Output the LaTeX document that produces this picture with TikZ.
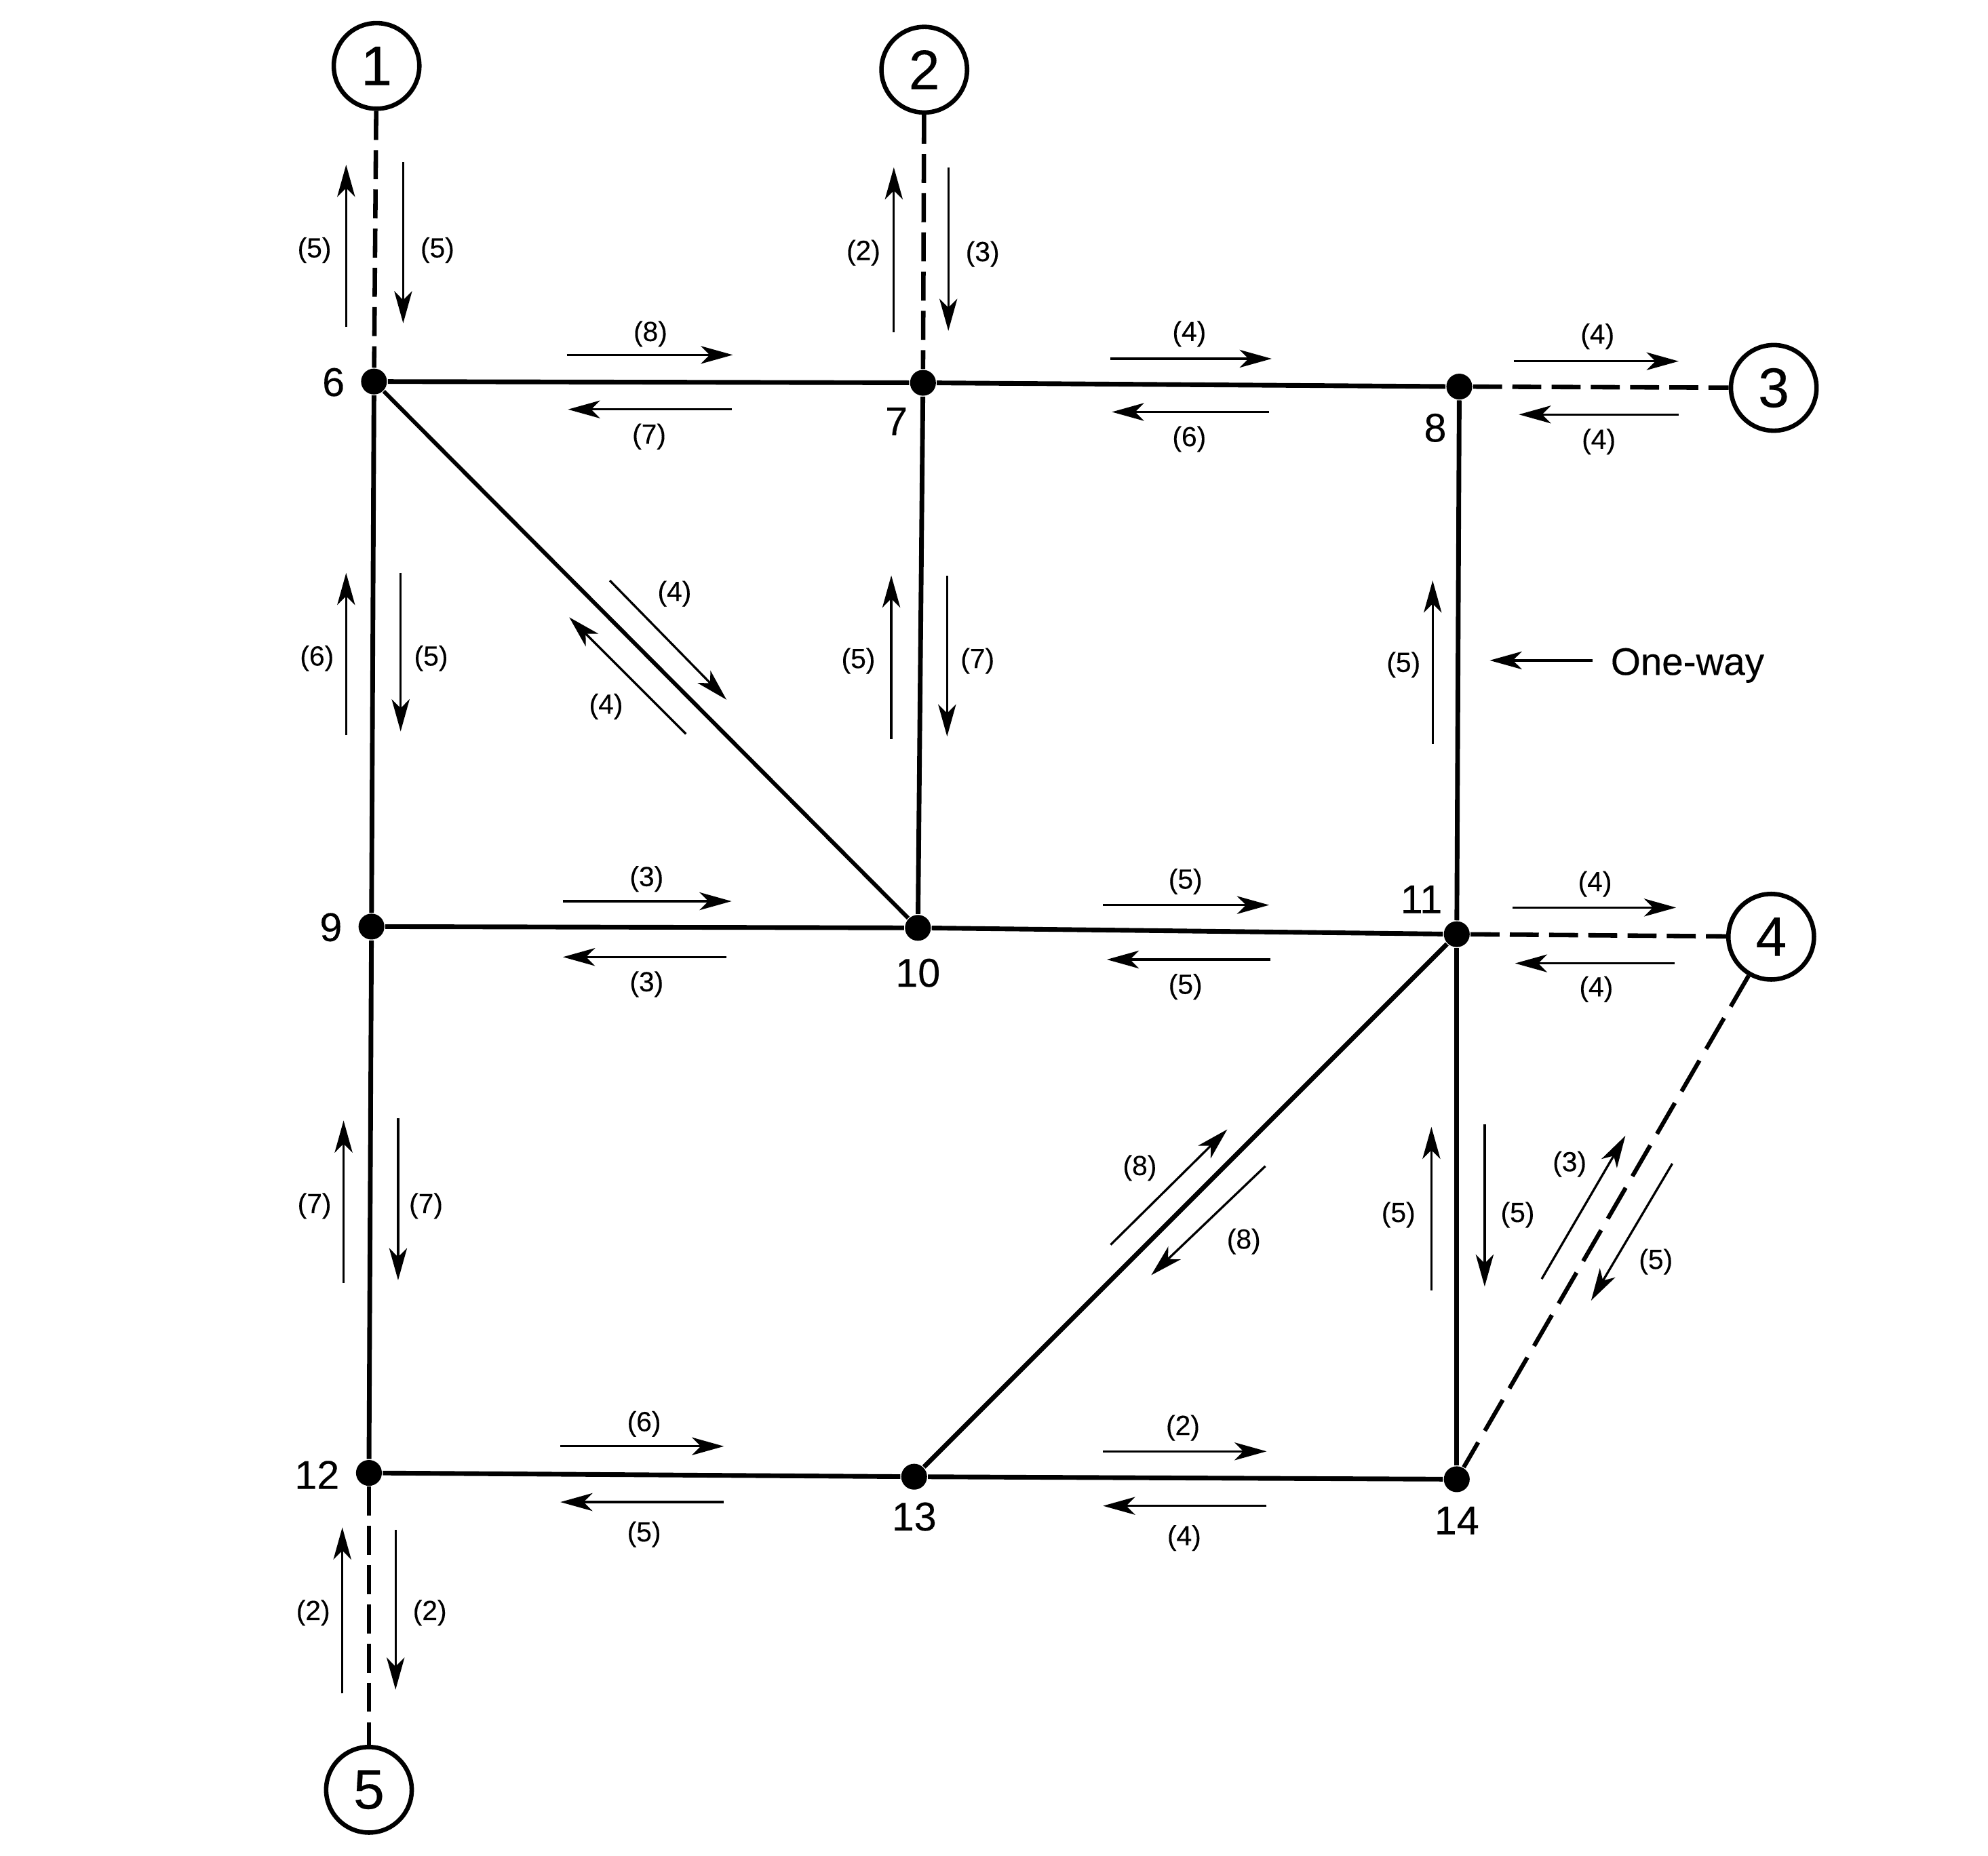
\documentclass[tikz,border=0pt]{standalone}
\usepackage{fontspec}
\setmainfont{Liberation Sans}
\newfontfamily\inkfont[FakeBold=0.25]{Liberation Sans}
\usetikzlibrary{arrows.meta}
\tikzset{
  road/.style={line width=1.05pt,black},
  thinroad/.style={line width=0.9pt,black},
  ramp/.style={line width=1pt,black,dash pattern=on 6.5pt off 2.3pt},
  longramp/.style={line width=0.95pt,black,dash pattern=on 8pt off 3pt},
  flowline/.style={line width=0.5pt,black,-{Stealth[length=7.2pt,width=4pt,inset=2pt]}},
  junction/.style={circle,fill=black,inner sep=0pt,minimum size=5.8pt},
  zone/.style={circle,draw=black,line width=1pt,inner sep=0pt,minimum size=19.2pt,font=\inkfont\fontsize{12.5}{12.5}\selectfont},
  numlabel/.style={inner sep=0pt,yshift=-0.15pt,font=\inkfont\fontsize{9}{9}\selectfont},
  flowlabel/.style={inner sep=0pt,yshift=-0.4pt,font=\inkfont\fontsize{6.2}{6.2}\selectfont}
}
\newcounter{flowno}
\newcommand{\flow}[7]{%
  \stepcounter{flowno}%
  \coordinate (fa\theflowno) at (#1,#2);
  \coordinate (fb\theflowno) at (#3,#4);
  \draw[flowline] (fa\theflowno) -- (fb\theflowno);
  \node[flowlabel] (fl\theflowno) at (#6,#7) {#5};
}
\begin{document}
\begin{tikzpicture}[x=0.01cm,y=-0.01cm]
\useasboundingbox (0,0) rectangle (1568,1464);
% junctions
\node[junction] (n6) at (295,301) {};
\node[junction] (n7) at (728,302) {};
\node[junction] (n8) at (1151,305) {};
\node[junction] (n9) at (293,731) {};
\node[junction] (n10) at (724,732) {};
\node[junction] (n11) at (1149,737) {};
\node[junction] (n12) at (291,1162) {};
\node[junction] (n13) at (721,1165) {};
\node[junction] (n14) at (1149,1167) {};
% zones
\node[zone] (z1) at (297,52) {1};
\node[zone] (z2) at (729,55) {2};
\node[zone] (z3) at (1399,306) {3};
\node[zone] (z4) at (1397,739) {4};
\node[zone] (z5) at (291,1412) {5};
% roads
\draw[road] (n6) -- (n7);
\draw[road] (n7) -- (n8);
\draw[road] (n9) -- (n10);
\draw[road] (n10) -- (n11);
\draw[road] (n12) -- (n13);
\draw[road] (n13) -- (n14);
\draw[road] (n6) -- (n9);
\draw[road] (n9) -- (n12);
\draw[road] (n7) -- (n10);
\draw[road] (n8) -- (n11);
\draw[road] (n11) -- (n14);
\draw[thinroad] (n6) -- (n10);
\draw[road] (n13) -- (n11);
% ramps
\draw[ramp] (z1) -- (n6);
\draw[ramp] (z2) -- (n7);
\draw[ramp] (n8) -- (z3);
\draw[ramp] (n11) -- (z4);
\draw[ramp] (n12) -- (z5);
\draw[longramp] (z4) -- (n14);
% number labels
\node[numlabel] (l6) at (263,301) {6};
\node[numlabel] (l7) at (707,332) {7};
\node[numlabel] (l8) at (1132,337) {8};
\node[numlabel] (l9) at (261,731) {9};
\node[numlabel] (l10) at (724,767) {10};
\node[numlabel] (l11) at (1121,709) {11};
\node[numlabel] (l12) at (250,1163) {12};
\node[numlabel] (l13) at (721,1196) {13};
\node[numlabel] (l14) at (1149,1199) {14};
% flows
\flow{273}{258}{273}{130}{(5)}{248}{196}
\flow{318}{128}{318}{255}{(5)}{345}{196}
\flow{705}{262}{705}{132}{(2)}{681}{198}
\flow{748}{132}{748}{261}{(3)}{775}{199}
\flow{447}{280}{578}{280}{(8)}{513}{262}
\flow{577}{323}{448}{323}{(7)}{512}{343}
\flow{876}{283}{1003}{283}{(4)}{938}{262}
\flow{1001}{325}{877}{325}{(6)}{938}{345}
\flow{1194}{285}{1324}{285}{(4)}{1260}{264}
\flow{1324}{327}{1198}{327}{(4)}{1261}{347}
\flow{273}{580}{273}{452}{(6)}{250}{518}
\flow{316}{452}{316}{577}{(5)}{340}{518}
\flow{481}{458}{573}{552}{(4)}{532}{467}
\flow{541}{579}{449}{487}{(4)}{478}{556}
\flow{703}{583}{703}{454}{(5)}{677}{520}
\flow{747}{454}{747}{581}{(7)}{771}{520}
\flow{1130}{587}{1130}{458}{(5)}{1107}{523}
\flow{444}{711}{577}{711}{(3)}{510}{692}
\flow{573}{755}{444}{755}{(3)}{510}{775}
\flow{870}{714}{1001}{714}{(5)}{935}{694}
\flow{1002}{757}{873}{757}{(5)}{935}{777}
\flow{1193}{716}{1322}{716}{(4)}{1258}{696}
\flow{1321}{760}{1195}{760}{(4)}{1259}{779}
\flow{271}{1012}{271}{884}{(7)}{248}{950}
\flow{314}{882}{314}{1010}{(7)}{336}{950}
\flow{876}{982}{968}{891}{(8)}{899}{920}
\flow{998}{920}{908}{1006}{(8)}{981}{978}
\flow{1129}{1018}{1129}{889}{(5)}{1103}{957}
\flow{1171}{887}{1171}{1015}{(5)}{1197}{957}
\flow{1216}{1009}{1282}{896}{(3)}{1238}{917}
\flow{1319}{918}{1255}{1026}{(5)}{1306}{994}
\flow{442}{1141}{571}{1141}{(6)}{508}{1122}
\flow{571}{1185}{442}{1185}{(5)}{508}{1209}
\flow{870}{1145}{999}{1145}{(2)}{933}{1125}
\flow{999}{1188}{870}{1188}{(4)}{934}{1212}
\flow{270}{1336}{270}{1205}{(2)}{247}{1271}
\flow{312}{1207}{312}{1333}{(2)}{339}{1271}
% one-way note
\node[numlabel,yshift=-0.7pt,font=\inkfont\fontsize{8.6}{8.6}\selectfont] (oneway) at (1331,522) {One-way};
\coordinate (owtail) at (1256,521);
\coordinate (owhead) at (1175,521);
\draw[flowline] (owtail) -- (owhead);
\end{tikzpicture}
\end{document}
